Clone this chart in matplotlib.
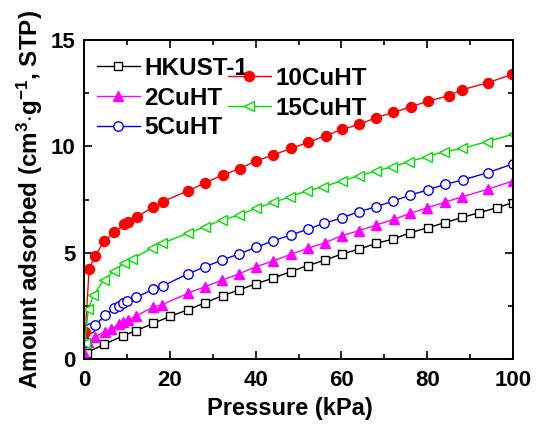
import matplotlib
matplotlib.use("Agg")
import matplotlib.pyplot as plt
from matplotlib.ticker import MultipleLocator

plt.rcParams['font.family'] = ['Liberation Sans', 'DejaVu Sans']
plt.rcParams['font.weight'] = 'bold'
plt.rcParams['mathtext.fontset'] = 'custom'
plt.rcParams['mathtext.bf'] = 'Liberation Sans:bold'
plt.rcParams['mathtext.rm'] = 'Liberation Sans:bold'
plt.rcParams['mathtext.default'] = 'bf'

# HKUST-1
x_hk = [0.3, 0.6, 4.7, 9.2, 12.1, 16.2, 20.0, 24.3, 28.3, 32.3, 36.2, 40.2, 44.1, 48.2, 52.1,
        56.2, 60.1, 64.1, 68.1, 72.1, 76.1, 80.1, 84.1, 88.2, 92.1, 96.2, 99.9]
y_hk = [0.1, 0.30, 0.69, 1.10, 1.33, 1.68, 2.0, 2.32, 2.65, 2.98, 3.25, 3.55, 3.80, 4.11, 4.39,
        4.65, 4.94, 5.16, 5.44, 5.64, 5.94, 6.17, 6.41, 6.66, 6.88, 7.11, 7.35]
# 2CuHT
x_2 = [0.0, 1.0, 2.6, 4.9, 6.3, 8.2, 9.2, 10.3, 12.1, 16.0, 18.1, 24.2, 28.2, 32.2, 36.1, 40.1,
       44.1, 48.2, 52.1, 56.2, 60.1, 64.1, 68.1, 72.3, 76.1, 80.0, 84.1, 88.2, 94.1, 99.9]
y_2 = [0.28, 0.81, 1.05, 1.28, 1.39, 1.65, 1.72, 1.83, 2.02, 2.43, 2.54, 3.09, 3.40, 3.71, 4.0, 4.34,
       4.61, 4.92, 5.20, 5.47, 5.80, 6.03, 6.30, 6.57, 6.85, 7.11, 7.37, 7.63, 7.98, 8.37]
# 5CuHT
x_5 = [0.15, 1.5, 2.6, 5.0, 7.1, 8.1, 9.0, 10.0, 12.2, 16.2, 18.3, 24.2, 28.2, 32.2, 36.1, 40.1,
       44.1, 48.2, 52.1, 56.0, 60.1, 64.1, 68.1, 72.1, 76.1, 80.1, 84.1, 88.3, 94.1, 99.9]
y_5 = [0.81, 1.44, 1.60, 2.07, 2.38, 2.49, 2.62, 2.74, 2.90, 3.29, 3.43, 4.0, 4.34, 4.65, 4.94, 5.25,
       5.56, 5.83, 6.10, 6.38, 6.64, 6.93, 7.16, 7.43, 7.71, 7.95, 8.21, 8.42, 8.76, 9.17]
# 10CuHT
x_10 = [0.3, 1.2, 2.6, 4.7, 7.1, 9.4, 10.2, 12.4, 16.2, 18.3, 24.3, 28.3, 32.3, 36.3, 40.2,
        44.1, 48.2, 52.3, 56.3, 60.2, 64.1, 68.1, 72.1, 76.2, 80.3, 85.0, 88.0, 94.1, 99.8]
y_10 = [1.25, 4.22, 4.86, 5.53, 5.97, 6.33, 6.42, 6.69, 7.16, 7.40, 7.91, 8.29, 8.65, 8.95, 9.32,
        9.59, 9.90, 10.19, 10.5, 10.8, 11.03, 11.35, 11.6, 11.86, 12.13, 12.38, 12.65, 12.99, 13.38]
# 15CuHT
x_15 = [0.2, 1.0, 2.2, 4.6, 6.9, 9.4, 11.2, 15.9, 18.2, 24.2, 28.2, 32.2, 36.1, 40.1, 44.1, 48.0,
        51.9, 55.8, 60.1, 64.0, 68.1, 71.9, 75.8, 79.9, 83.9, 88.2, 93.9, 99.9]
y_15 = [0.75, 2.35, 3.0, 3.71, 4.15, 4.5, 4.69, 5.23, 5.44, 5.91, 6.22, 6.54, 6.77, 7.08, 7.36, 7.63,
        7.90, 8.10, 8.38, 8.60, 8.85, 9.04, 9.28, 9.51, 9.75, 9.90, 10.22, 10.56]

fig = plt.figure(figsize=(5.37, 4.25), dpi=100)
ax = fig.add_axes([84/537, 1-359/425, (513-84)/537, (359-40)/425])

lw = 1.0
l_hk, = ax.plot(x_hk, y_hk, '-s', color='black', mfc='white', mec='black', ms=6.2, lw=lw, mew=1.0, label='HKUST-1')
l_2, = ax.plot(x_2, y_2, '-^', color='#FF00FF', mfc='#FF00FF', mec='#FF00FF', ms=7.5, lw=lw, label='2CuHT')
l_5, = ax.plot(x_5, y_5, '-o', color='#0000FF', mfc='white', mec='#0000FF', ms=6.8, lw=lw, mew=1.0, label='5CuHT')
l_10, = ax.plot(x_10, y_10, '-o', color='#FF0000', mfc='#FF0000', mec='#FF0000', ms=7.2, lw=lw, label='10CuHT')
l_15, = ax.plot(x_15, y_15, '-<', color='#00E000', mfc='white', mec='#00E000', ms=7.5, lw=lw, mew=1.0, label='15CuHT')

ax.set_xlim(0, 100)
ax.set_ylim(0, 15)
ax.xaxis.set_major_locator(MultipleLocator(20))
ax.xaxis.set_minor_locator(MultipleLocator(10))
ax.yaxis.set_major_locator(MultipleLocator(5))
ax.yaxis.set_minor_locator(MultipleLocator(2.5))
ax.tick_params(which='both', direction='in', top=True, right=True, labelsize=16, width=1.2)
ax.tick_params(axis='x', which='major', length=6, pad=8)
ax.tick_params(axis='y', which='major', length=6, pad=6)
ax.tick_params(which='minor', length=3.5)
for s in ax.spines.values():
    s.set_linewidth(1.4)
for t in ax.get_xticklabels() + ax.get_yticklabels():
    t.set_fontweight('bold')

ax.set_xlabel('Pressure (kPa)', fontsize=17, fontweight='bold')
ax.xaxis.set_label_coords(0.48, -0.12)
ax.set_ylabel(r'Amount adsorbed (cm$^{3}$$\cdot$g$^{-1}$, STP)', fontsize=17.5, fontweight='bold', labelpad=4)

leg_kw = dict(frameon=False, handlelength=1.75, handletextpad=0.2,
              labelspacing=0.27, borderpad=0, borderaxespad=0,
              prop={'weight': 'bold', 'size': 17.5})
leg1 = ax.legend(handles=[l_hk, l_2, l_5], loc='upper left',
                 bbox_to_anchor=(97/537, 1-57/425), bbox_transform=fig.transFigure, **leg_kw)
ax.add_artist(leg1)
ax.legend(handles=[l_10, l_15], loc='upper left',
          bbox_to_anchor=(228/537, 1-67/425), bbox_transform=fig.transFigure, **leg_kw)

fig.savefig('out.png', dpi=100)
